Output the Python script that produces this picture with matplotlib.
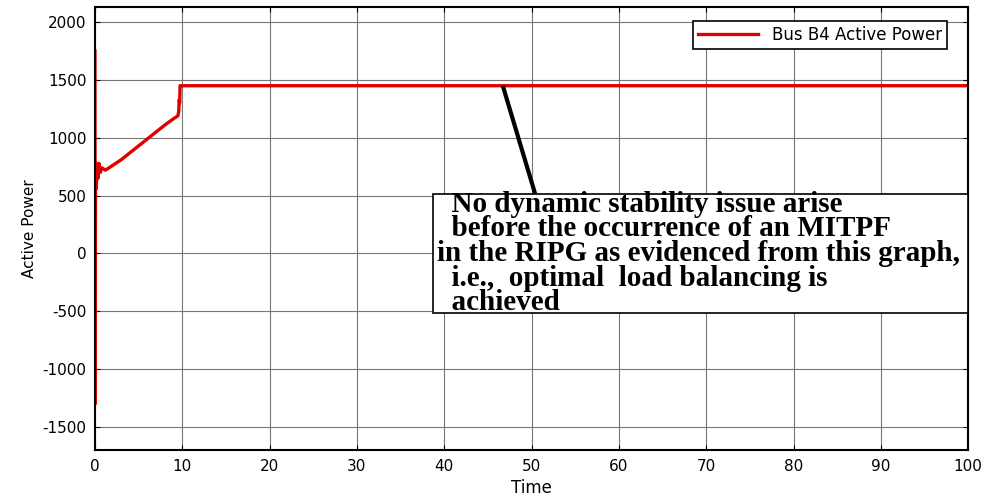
import matplotlib.pyplot as plt
from matplotlib.patches import Rectangle

plt.rcParams['axes.unicode_minus'] = False

# bus B4 active power
time = [0, 0.03, 0.06, 0.1, 0.15, 0.25, 0.35, 0.45, 0.6, 0.8, 1.2, 2, 3, 4, 5, 6, 7, 8, 9,
        9.5, 9.6, 9.65, 9.7, 9.75, 10, 100]
power = [1750, -1300, 600, 780, 560, 760, 650, 780, 700, 740, 720, 760, 810, 870, 930, 990,
         1050, 1110, 1165, 1190, 1230, 1330, 1300, 1450, 1450, 1450]

note = ("  No dynamic stability issue arise\n"
        "  before the occurrence of an MITPF\n"
        "in the RIPG as evidenced from this graph,\n"
        "  i.e.,  optimal  load balancing is\n"
        "  achieved")

fig = plt.figure(figsize=(9.89, 5.03), dpi=100)
ax = fig.add_axes([0.096, 0.105, 0.883, 0.881])
ax.plot(time, power, color='#e00000', linewidth=2.4, label='Bus B4 Active Power')
ax.set_xlim(0, 100)
ax.set_ylim(-1700, 2130)
ax.set_xticks(range(0, 101, 10))
ax.set_yticks(range(-1500, 2001, 500))
ax.grid(True, color='#777777', linewidth=0.8)
ax.tick_params(labelsize=11, direction='in', top=True, right=True, pad=6)
for s in ax.spines.values():
    s.set_linewidth(1.5)
ax.set_xlabel('Time', fontsize=12, labelpad=4)
ax.set_ylabel('Active Power', fontsize=11)

leg = ax.legend(loc='upper right', bbox_to_anchor=(0.985, 0.988), fontsize=12,
                fancybox=False, framealpha=1, edgecolor='black', handlelength=3.6,
                borderpad=0.3)
leg.get_frame().set_linewidth(1.2)

ax.plot([46.7, 50.4], [1450, 517], color='black', linewidth=3, solid_capstyle='butt')
ax.add_patch(Rectangle((38.7, -517), 61.3, 1034, facecolor='white', edgecolor='black',
                       linewidth=1.2, zorder=3))
ax.text(39.2, 0, note, fontsize=21, family='Liberation Serif', fontweight='bold',
        va='center', ha='left', linespacing=0.89, zorder=4)

fig.savefig('out.png')
